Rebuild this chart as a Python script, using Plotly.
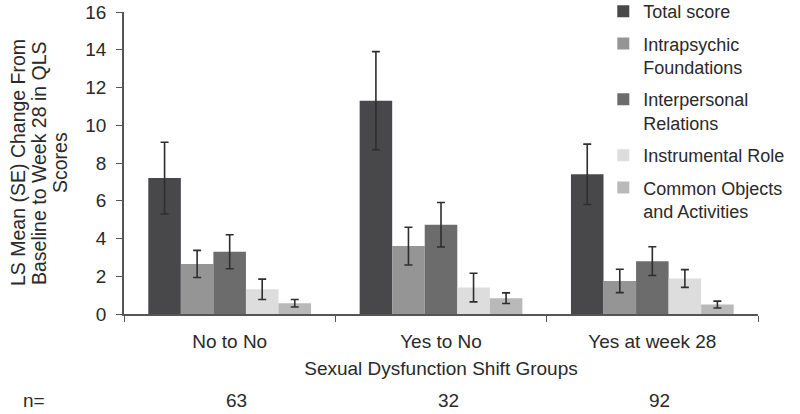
import plotly.graph_objects as go

groups = ["No to No", "Yes to No", "Yes at week 28"]
n_counts = ["63", "32", "92"]

series_names = ["Total score", "Intrapsychic<br>Foundations", "Interpersonal<br>Relations",
                "Instrumental Role", "Common Objects<br>and Activities"]
series_colors = ["#48484a", "#959596", "#6c6c6c", "#dddddd", "#b9b9b9"]

total_score = [7.2, 11.3, 7.4]
total_se = [1.9, 2.6, 1.6]
intrapsychic = [2.65, 3.6, 1.75]
intrapsychic_se = [0.72, 1.0, 0.62]
interpersonal = [3.3, 4.73, 2.8]
interpersonal_se = [0.9, 1.18, 0.76]
instrumental = [1.31, 1.4, 1.88]
instrumental_se = [0.54, 0.76, 0.47]
common_objects = [0.57, 0.84, 0.5]
common_objects_se = [0.2, 0.28, 0.18]

y_title_lines = ["LS Mean (SE) Change From", "Baseline to Week 28 in QLS", "Scores"]

values = [total_score, intrapsychic, interpersonal, instrumental, common_objects]
errors = [total_se, intrapsychic_se, interpersonal_se, instrumental_se, common_objects_se]

FONT = "Liberation Sans, Arial, sans-serif"
TXT = "#2a2a2a"
FS = 19

fig = go.Figure()
for i in range(len(series_names)):
    fig.add_trace(go.Bar(
        x=groups,
        y=values[i],
        name=series_names[i],
        legendgroup=str(i),
        marker=dict(color=series_colors[i], line=dict(width=0)),
        error_y=dict(type="data", array=errors[i], visible=True,
                     color="#2e2e2e", thickness=1.6, width=4),
    ))

fig.update_layout(
    width=800, height=414,
    margin=dict(l=124, r=42, t=12, b=100, autoexpand=False),
    paper_bgcolor="white", plot_bgcolor="white",
    barmode="group", bargap=0.23, bargroupgap=0,
    font=dict(family=FONT, size=FS, color=TXT),
    showlegend=True,
    legend=dict(x=0.756, y=1.063, xanchor="left", yanchor="top",
                bgcolor="rgba(0,0,0,0)", tracegroupgap=6, valign="top", maxheight=1,
                font=dict(family=FONT, size=18, color=TXT)),
)

fig.update_xaxes(
    showline=True, linecolor="#555555", linewidth=1.5,
    ticks="outside", tickson="boundaries", ticklen=6, tickcolor="#555555",
    tickfont=dict(size=FS), ticklabelstandoff=9,
    title=dict(text="Sexual Dysfunction Shift Groups", font=dict(size=FS), standoff=11),
)
fig.update_yaxes(
    range=[0, 16], dtick=2, showgrid=False, zeroline=False,
    showline=True, linecolor="#555555", linewidth=1.5,
    ticks="outside", ticklen=6, tickcolor="#555555",
    tickfont=dict(size=FS), ticklabelstandoff=6, ticklabeloverflow="allow",
)

# rotated y title, one line per annotation
for k, line in enumerate(y_title_lines):
    fig.add_annotation(x=0, y=0.5, xref="paper", yref="paper", text=line,
                       textangle=-90, showarrow=False, xanchor="center", yanchor="middle",
                       xshift=-106 + 21 * k, font=dict(size=19.5, color=TXT))

# n= row below the axis
fig.add_annotation(x=-0.162, y=-0.328, xref="paper", yref="paper", text="n=",
                   showarrow=False, font=dict(size=FS, color=TXT))
for g, n in zip(groups, n_counts):
    fig.add_annotation(x=g, y=-0.328, xref="x", yref="paper", text=n, xshift=7,
                       showarrow=False, font=dict(size=FS, color=TXT))

# drop the default 8px page margin so the figure sits at the window corner
fig.write_html("out.html", config={"displayModeBar": False},
               post_script="document.body.style.margin = '0';")
